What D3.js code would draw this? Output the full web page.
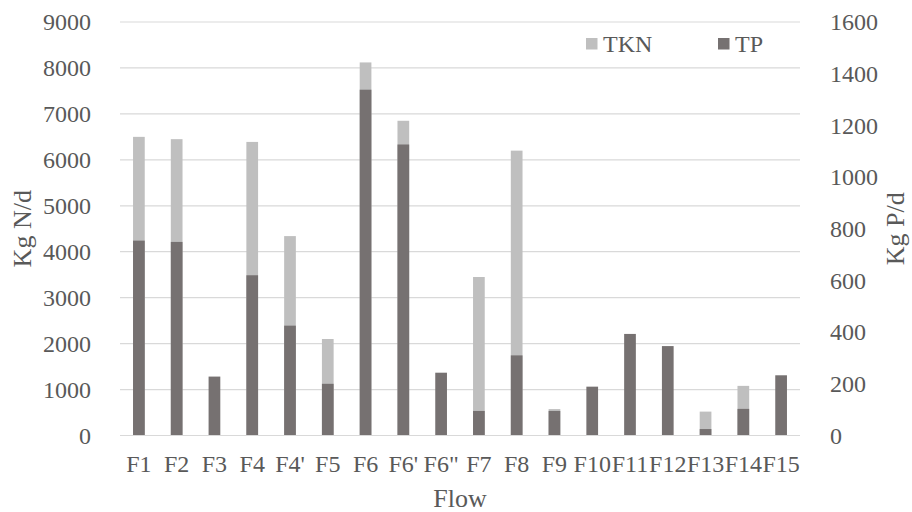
<!DOCTYPE html>
<html>
<head>
<meta charset="utf-8">
<script src="https://cdn.jsdelivr.net/npm/d3@7"></script>
<style>
  html, body { margin: 0; padding: 0; background: #fff; }
  svg { display: block; }
  svg text { font-family: "Liberation Serif", "Times New Roman", serif; }
</style>
</head>
<body>
<svg id="chart" width="912" height="512"></svg>
<script>
// Data
const flows = ["F1", "F2", "F3", "F4", "F4'", "F5", "F6", "F6'", "F6\"", "F7",
               "F8", "F9", "F10", "F11", "F12", "F13", "F14", "F15"];
const tkn = [6500, 6450, 0, 6390, 4340, 2100, 8120, 6850, 0, 3450,
             6200, 575, 0, 0, 0, 520, 1080, 0];          // Kg N/d, left axis
const tp  = [754, 749, 228, 620, 425, 200, 1338, 1126, 243, 95,
             310, 95, 189, 393, 346, 25, 103, 233];      // Kg P/d, right axis
const nTicks = d3.range(0, 9001, 1000);
const pTicks = d3.range(0, 1601, 200);

const svg = d3.select("#chart");
const margin = { top: 22, right: 112, bottom: 76.5, left: 120 };
const W = 912 - margin.left - margin.right;
const H = 512 - margin.top - margin.bottom;

const textCol = "#595959";
const tknCol  = "#bfbfbf";
const tpCol   = "#767171";

const g = svg.append("g").attr("transform", `translate(${margin.left},${margin.top})`);

// scales
const x  = d3.scaleBand().domain(flows).range([0, W]).paddingInner(0.69).paddingOuter(0.345);
const yN = d3.scaleLinear().domain([0, 9000]).range([H, 0]);
const yP = d3.scaleLinear().domain([0, 1600]).range([H, 0]);

// gridlines
g.selectAll("line.grid")
  .data(nTicks)
  .join("line")
    .attr("class", "grid")
    .attr("x1", 0).attr("x2", W)
    .attr("y1", d => yN(d)).attr("y2", d => yN(d))
    .attr("stroke", "#d9d9d9").attr("stroke-width", 1.2);

// TKN bars (behind)
g.selectAll("rect.tkn")
  .data(flows.map((f, i) => ({ f, v: tkn[i] })))
  .join("rect")
    .attr("class", "tkn")
    .attr("x", d => x(d.f))
    .attr("width", x.bandwidth())
    .attr("y", d => yN(d.v))
    .attr("height", d => H - yN(d.v))
    .attr("fill", tknCol);

// TP bars (front)
g.selectAll("rect.tp")
  .data(flows.map((f, i) => ({ f, v: tp[i] })))
  .join("rect")
    .attr("class", "tp")
    .attr("x", d => x(d.f))
    .attr("width", x.bandwidth())
    .attr("y", d => yP(d.v))
    .attr("height", d => H - yP(d.v))
    .attr("fill", tpCol);

// axes
const styleAxis = a => {
  a.attr("font-family", null).attr("font-size", null);
  a.select(".domain").remove();
  a.selectAll(".tick line").remove();
  a.selectAll("text").attr("fill", textCol).attr("font-size", 24);
};

g.append("g")
  .call(d3.axisLeft(yN).tickValues(nTicks).tickFormat(d3.format("d")).tickPadding(23))
  .call(styleAxis);

g.append("g")
  .attr("transform", `translate(${W},0)`)
  .call(d3.axisRight(yP).tickValues(pTicks).tickFormat(d3.format("d")).tickPadding(24))
  .call(styleAxis);

const xAx = g.append("g")
  .attr("transform", `translate(0,${H})`)
  .call(d3.axisBottom(x).tickSize(0).tickPadding(0))
  .call(styleAxis);
xAx.selectAll("text").attr("dy", null).attr("y", 36);

// zero line
g.append("line")
  .attr("x1", 0).attr("x2", W)
  .attr("y1", H).attr("y2", H)
  .attr("stroke", "#d9d9d9").attr("stroke-width", 1.2);

// axis titles
svg.append("text")
  .attr("transform", `translate(31,${margin.top + H / 2}) rotate(-90)`)
  .attr("text-anchor", "middle")
  .attr("fill", textCol).attr("font-size", 26)
  .text("Kg N/d");

svg.append("text")
  .attr("transform", `translate(904,${margin.top + H / 2}) rotate(-90)`)
  .attr("text-anchor", "middle")
  .attr("fill", textCol).attr("font-size", 26)
  .text("Kg P/d");

svg.append("text")
  .attr("x", margin.left + W / 2).attr("y", 507)
  .attr("text-anchor", "middle")
  .attr("fill", textCol).attr("font-size", 26)
  .text("Flow");

// legend
const legendItems = [
  { name: "TKN", color: tknCol, x: 586 },
  { name: "TP",  color: tpCol,  x: 718 }
];
const leg = svg.selectAll("g.legend")
  .data(legendItems)
  .join("g")
    .attr("class", "legend")
    .attr("transform", d => `translate(${d.x},38)`);
leg.append("rect")
  .attr("width", 11.5).attr("height", 11.5)
  .attr("fill", d => d.color);
leg.append("text")
  .attr("x", 17).attr("y", 13.5)
  .attr("fill", textCol).attr("font-size", 24)
  .text(d => d.name);
</script>
</body>
</html>
